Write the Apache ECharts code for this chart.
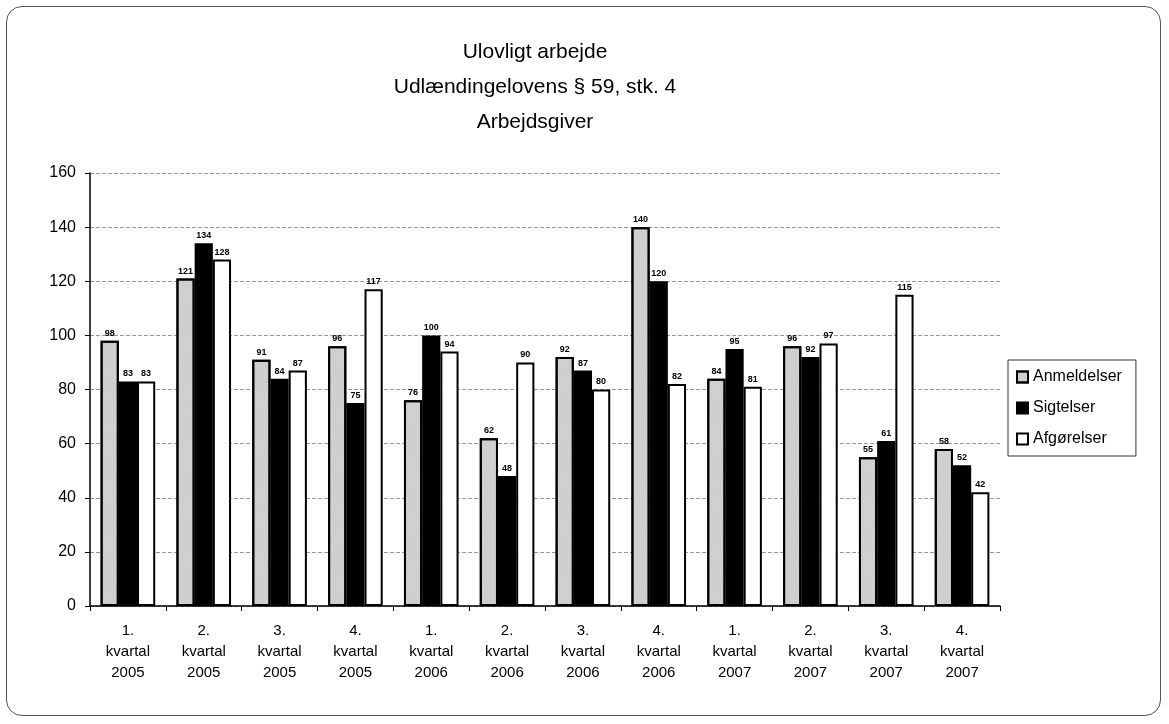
<!DOCTYPE html>
<html>
<head>
<meta charset="utf-8">
<script src="https://cdn.jsdelivr.net/npm/echarts@6/dist/echarts.min.js"></script>
<style>
  html, body { margin: 0; padding: 0; background: #fff; }
  #frame {
    position: absolute; left: 6px; top: 6px; width: 1155px; height: 710px;
    border: 1px solid #555; border-radius: 16px; box-sizing: border-box;
  }
  #chart { position: absolute; left: 0; top: 0; width: 1169px; height: 724px; }
</style>
</head>
<body>
<div id="frame"></div>
<div id="chart"></div>
<script>
const categories = [
  "1.\nkvartal\n2005", "2.\nkvartal\n2005", "3.\nkvartal\n2005", "4.\nkvartal\n2005",
  "1.\nkvartal\n2006", "2.\nkvartal\n2006", "3.\nkvartal\n2006", "4.\nkvartal\n2006",
  "1.\nkvartal\n2007", "2.\nkvartal\n2007", "3.\nkvartal\n2007", "4.\nkvartal\n2007"
];
const anmeldelser = [98, 121, 91, 96, 76, 62, 92, 140, 84, 96, 55, 58];
const sigtelser = [83, 134, 84, 75, 100, 48, 87, 120, 95, 92, 61, 52];
const afgoerelser = [83, 128, 87, 117, 94, 90, 80, 82, 81, 97, 115, 42];
const yTicks = [0, 20, 40, 60, 80, 100, 120, 140, 160];

const chart = echarts.init(document.getElementById("chart"));

const label = {
  show: true,
  position: "top",
  distance: 3,
  color: "#000",
  fontSize: 9,
  fontWeight: "bold",
  fontFamily: "Liberation Sans",
};

const option = {
  animation: false,
  textStyle: { fontFamily: "Liberation Sans" },
  title: {
    text: "Ulovligt arbejde\nUdlændingelovens § 59, stk. 4\nArbejdsgiver",
    left: 530,
    textAlign: "center",
    top: 30,
    textStyle: {
      fontSize: 21,
      fontWeight: "normal",
      color: "#000",
      lineHeight: 35,
      fontFamily: "Liberation Sans",
    },
  },
  legend: {
    orient: "vertical",
    left: 1008,
    top: 360,
    icon: "rect",
    itemWidth: 11,
    itemHeight: 11,
    itemGap: 15,
    padding: [9, 14, 9, 8],
    borderColor: "#333",
    borderWidth: 1,
    textStyle: { fontSize: 16, color: "#000", fontFamily: "Liberation Sans" },
    data: ["Anmeldelser", "Sigtelser", "Afgørelser"],
  },
  grid: { left: 90, right: 169, top: 173, bottom: 118 },
  xAxis: {
    type: "category",
    data: categories,
    axisLine: { lineStyle: { color: "#000", width: 1.5 } },
    axisTick: { show: true, length: 5, lineStyle: { color: "#000" } },
    axisLabel: {
      color: "#000",
      fontSize: 15,
      lineHeight: 21,
      margin: 14,
      interval: 0,
    },
  },
  yAxis: {
    type: "value",
    min: yTicks[0],
    max: yTicks[yTicks.length - 1],
    interval: 20,
    axisLine: { show: true, lineStyle: { color: "#000", width: 1.5 } },
    axisTick: { show: true, length: 5, lineStyle: { color: "#000" } },
    axisLabel: { color: "#000", fontSize: 16, margin: 14 },
    splitLine: { lineStyle: { color: "#999", type: "dashed", width: 1 } },
  },
  series: [
    {
      name: "Anmeldelser",
      type: "bar",
      data: anmeldelser,
      barGap: "0%",
      barCategoryGap: "28%",
      itemStyle: {
        color: "#d0d0d0",
        borderColor: "#000",
        borderWidth: 2,
        decal: {
          symbol: "rect",
          symbolSize: 0.5,
          dashArrayX: [1, 2],
          dashArrayY: [1, 3],
          color: "rgba(90,90,90,0.4)",
          rotation: 0.6,
        },
      },
      label: label,
    },
    {
      name: "Sigtelser",
      type: "bar",
      data: sigtelser,
      itemStyle: { color: "#000", borderColor: "#000", borderWidth: 2 },
      label: label,
    },
    {
      name: "Afgørelser",
      type: "bar",
      data: afgoerelser,
      itemStyle: { color: "#fff", borderColor: "#000", borderWidth: 2 },
      label: label,
    },
  ],
};

chart.setOption(option);
</script>
</body>
</html>
